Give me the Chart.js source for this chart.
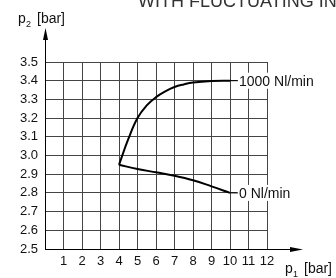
<!DOCTYPE html>
<html>
<head>
<meta charset="utf-8">
<script src="https://cdn.jsdelivr.net/npm/chart.js@4/dist/chart.umd.min.js"></script>
<style>
  html, body { margin: 0; padding: 0; background: #fff; }
  #wrap { width: 336px; height: 278px; position: relative; }
</style>
</head>
<body>
<div id="wrap"><canvas id="myChart"></canvas></div>
<script>
// outlet pressure p2 against inlet pressure p1

var inletHigh = [4, 4.5, 5, 5.5, 6, 6.5, 7, 7.5, 8, 9, 10];
var outletHigh = [2.95, 3.087, 3.2, 3.268, 3.312, 3.343, 3.366, 3.38, 3.39, 3.398, 3.4];
var inletZero = [4, 5, 6, 7, 8, 9, 10];
var outletZero = [2.95, 2.928, 2.91, 2.892, 2.868, 2.835, 2.8];
var seriesLabels = ["1000 Nl/min", "0 Nl/min"];
var xTicks = [1, 2, 3, 4, 5, 6, 7, 8, 9, 10, 11, 12];
var yTicks = [2.5, 2.6, 2.7, 2.8, 2.9, 3.0, 3.1, 3.2, 3.3, 3.4, 3.5];

var FONT = "'Liberation Sans', Arial, sans-serif";

function toPoints(xs, ys) {
  return xs.map(function (x, i) { return { x: x, y: ys[i] }; });
}

// arrows, axis names, curve labels and the cut title
var decorPlugin = {
  id: "decor",
  afterDraw: function (chart) {
    var c = chart.ctx;
    var a = chart.chartArea;
    c.save();
    c.strokeStyle = "#000";
    c.fillStyle = "#000";
    c.lineWidth = 1;

    // y axis arrow
    c.beginPath();
    c.moveTo(a.left + 0.5, a.top);
    c.lineTo(a.left + 0.5, 38);
    c.stroke();
    c.beginPath();
    c.moveTo(a.left + 0.5, 28);
    c.lineTo(a.left - 2, 40);
    c.lineTo(a.left + 3, 40);
    c.closePath();
    c.fill();

    // x axis arrow
    c.beginPath();
    c.moveTo(a.right, a.bottom + 0.5);
    c.lineTo(292, a.bottom + 0.5);
    c.stroke();
    c.beginPath();
    c.moveTo(303, a.bottom + 0.5);
    c.lineTo(290, a.bottom - 2);
    c.lineTo(290, a.bottom + 3);
    c.closePath();
    c.fill();

    // axis names
    c.fillStyle = "#111";
    c.textBaseline = "alphabetic";
    c.textAlign = "left";
    c.font = "14px " + FONT;
    c.fillText("p", 18, 23);
    c.font = "9px " + FONT;
    c.fillText("2", 26, 27);
    c.font = "14px " + FONT;
    c.fillText("[bar]", 37, 23);

    c.fillText("p", 285, 273);
    c.font = "9px " + FONT;
    c.fillText("1", 293, 277);
    c.font = "14px " + FONT;
    c.fillText("[bar]", 304, 273);

    // curve labels with white boxes
    var xs = chart.scales.x, ys = chart.scales.y;
    chart.data.datasets.forEach(function (ds, i) {
      var last = ds.data[ds.data.length - 1];
      var px = xs.getPixelForValue(last.x);
      var py = ys.getPixelForValue(last.y);
      c.font = "14px " + FONT;
      var w = c.measureText(seriesLabels[i]).width;
      c.fillStyle = "#fff";
      c.fillRect(px + 7, py - 8, w + 4, 16);
      c.strokeStyle = "#000";
      c.beginPath();
      c.moveTo(px, py);
      c.lineTo(px + 8, py);
      c.stroke();
      c.fillStyle = "#111";
      c.textBaseline = "middle";
      c.fillText(seriesLabels[i], px + 9, py + 1);
    });

    // title, cut off by the top edge
    c.font = "18px " + FONT;
    c.fillStyle = "#333";
    c.textBaseline = "alphabetic";
    c.fillText("WITH FLUCTUATING INLET PRESSURE", 138, 7);
    c.restore();
  }
};

var ctx = document.getElementById("myChart").getContext("2d");

var myChart = new Chart(ctx, {
  type: "line",
  data: {
    datasets: [{
      label: seriesLabels[0],
      data: toPoints(inletHigh, outletHigh),
      borderColor: "#000",
      borderWidth: 2,
      pointRadius: 0,
      tension: 0.4,
      fill: false
    }, {
      label: seriesLabels[1],
      data: toPoints(inletZero, outletZero),
      borderColor: "#000",
      borderWidth: 2,
      pointRadius: 0,
      tension: 0.4,
      fill: false
    }]
  },
  options: {
    responsive: true,
    maintainAspectRatio: false,
    animation: false,
    layout: { padding: { top: 62, right: 69, left: 0, bottom: 0 } },
    plugins: { legend: { display: false }, tooltip: { enabled: false } },
    scales: {
      x: {
        type: "linear",
        min: 0,
        max: 12,
        afterBuildTicks: function (scale) {
          scale.ticks = [0].concat(xTicks).map(function (v) { return { value: v }; });
        },
        afterFit: function (scale) { scale.height = 29; },
        ticks: {
          padding: 5,
          color: "#111",
          font: { size: 13, family: FONT },
          maxRotation: 0,
          callback: function (v) { return v === 0 ? "" : String(v); }
        },
        grid: { color: "#444", lineWidth: 1, drawTicks: false },
        border: { color: "#000", width: 1 }
      },
      y: {
        type: "linear",
        min: 2.5,
        max: 3.5,
        afterBuildTicks: function (scale) {
          scale.ticks = yTicks.map(function (v) { return { value: v }; });
        },
        afterFit: function (scale) { scale.width = 45; },
        ticks: {
          padding: 7,
          color: "#111",
          font: { size: 13, family: FONT },
          callback: function (v) { return v.toFixed(1); }
        },
        grid: { color: "#444", lineWidth: 1, drawTicks: false },
        border: { color: "#000", width: 1 }
      }
    }
  },
  plugins: [decorPlugin]
});
</script>
</body>
</html>
